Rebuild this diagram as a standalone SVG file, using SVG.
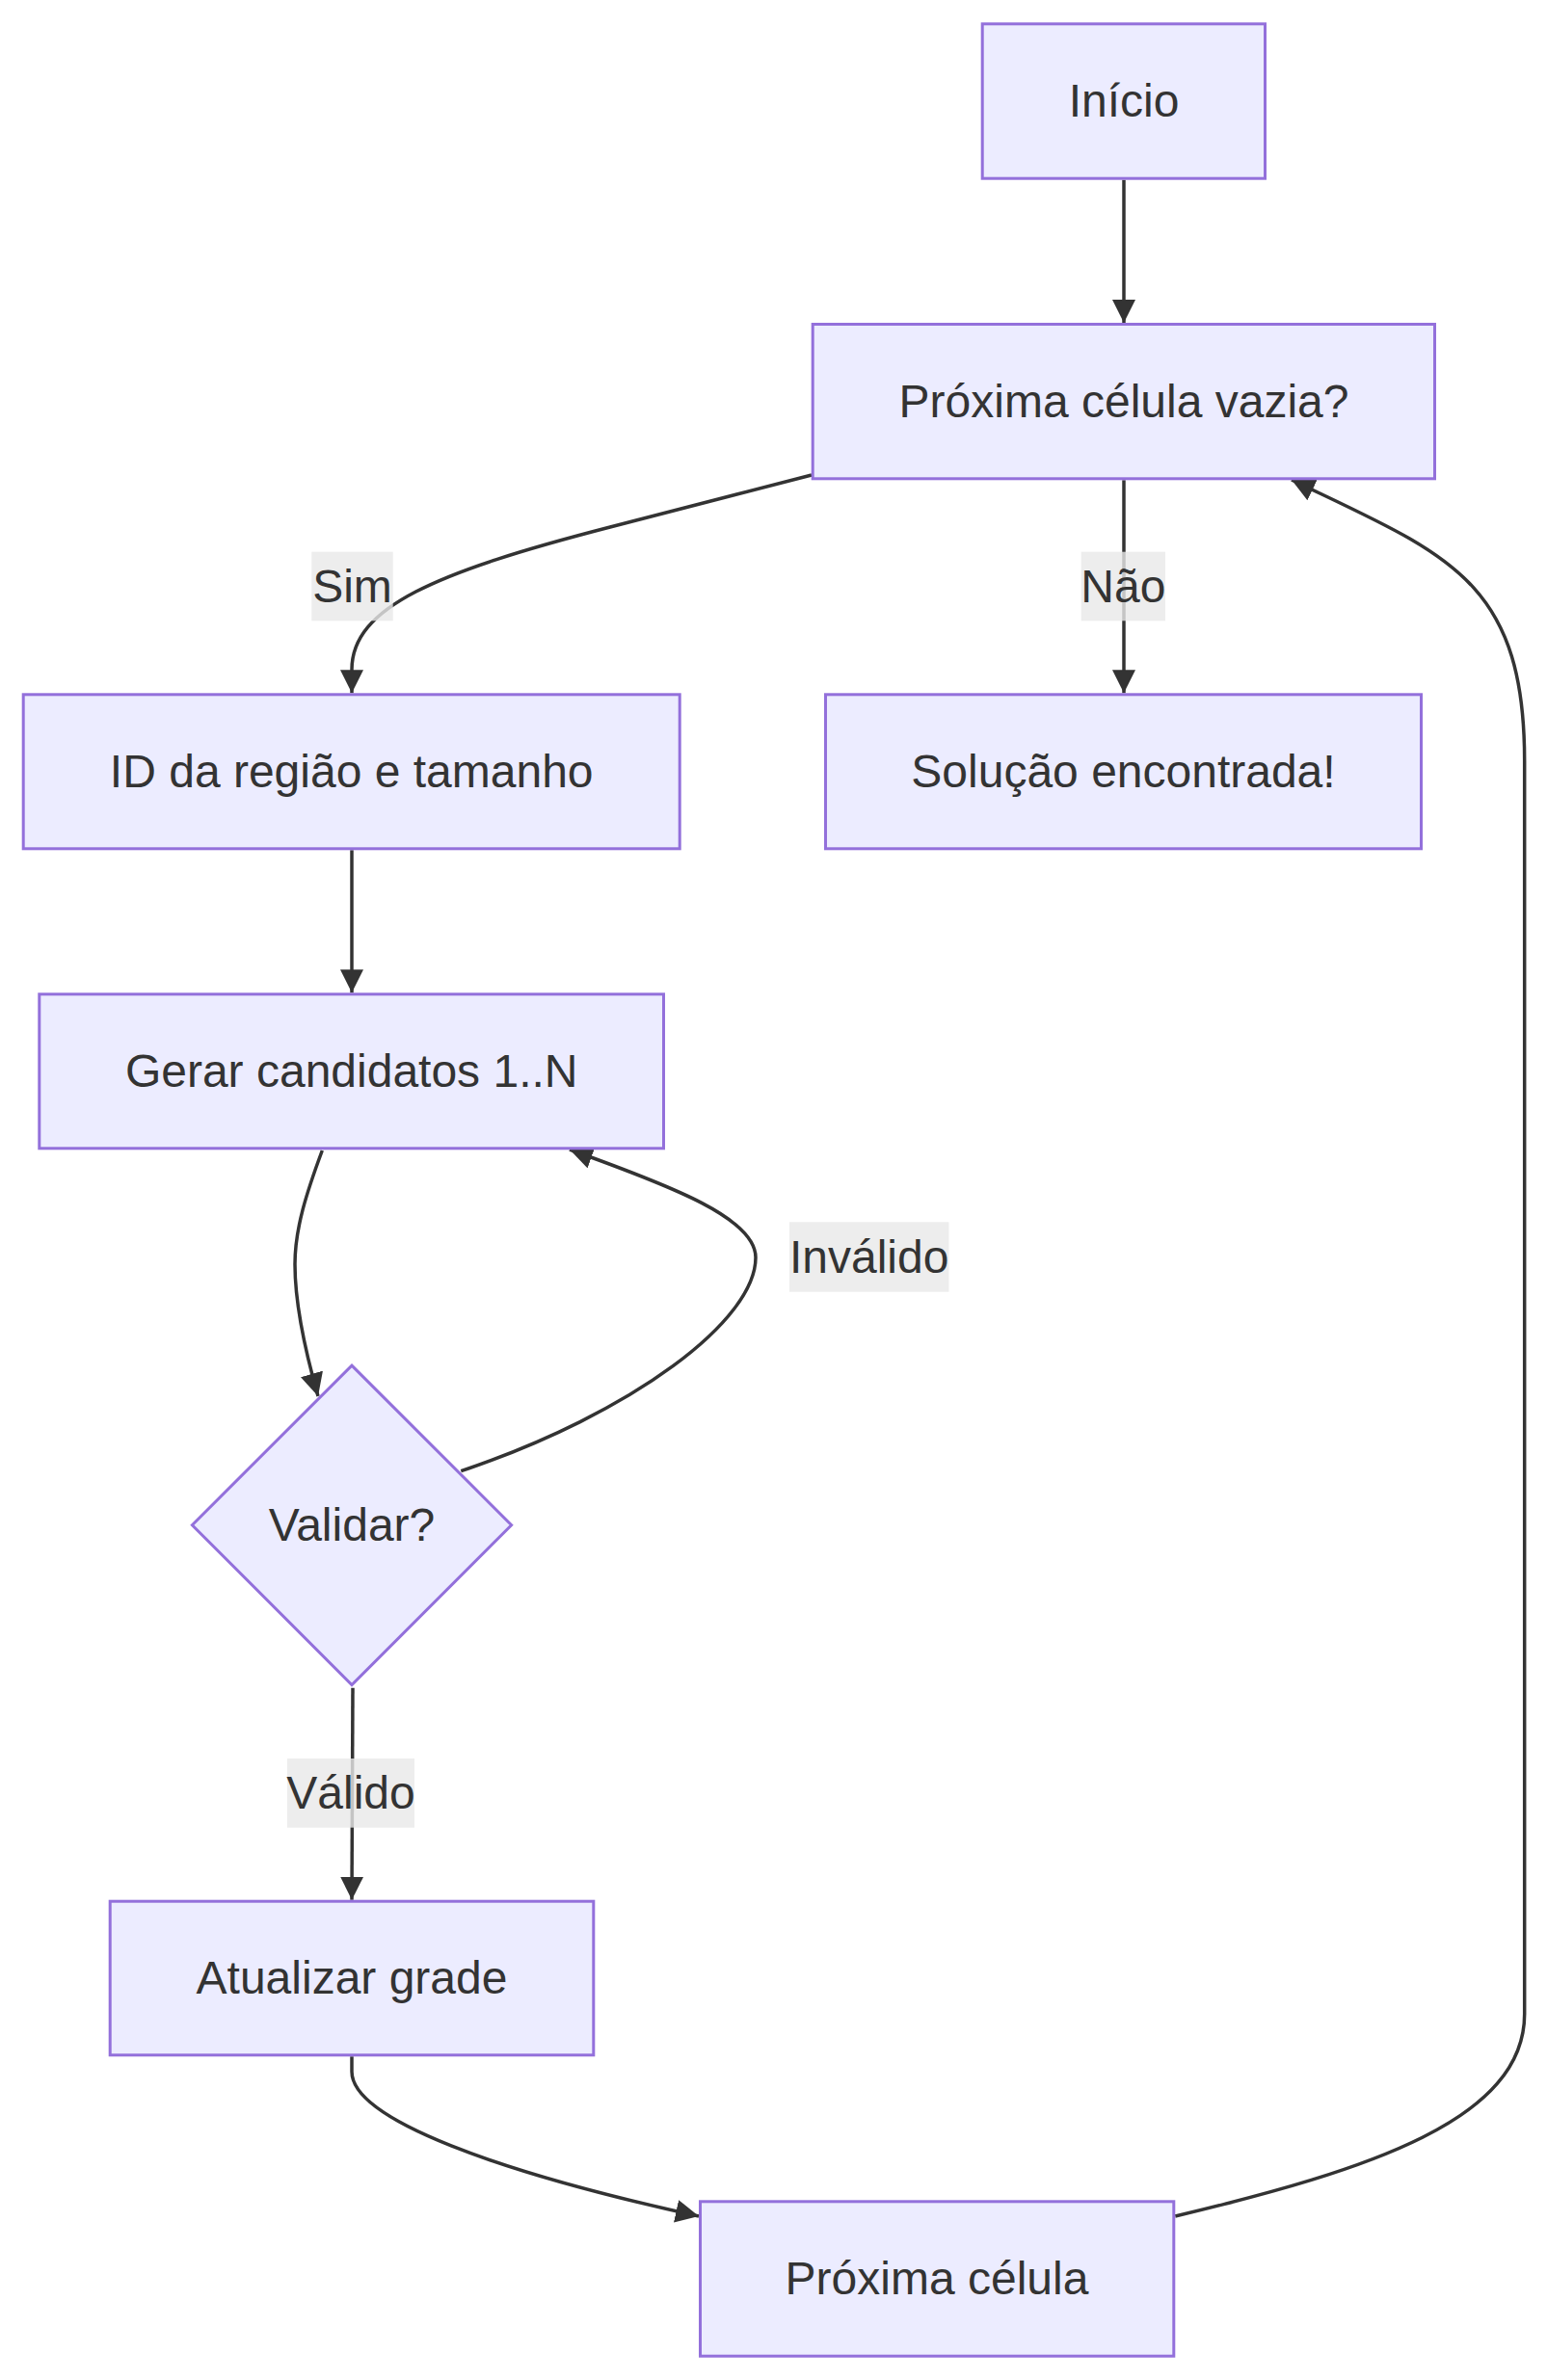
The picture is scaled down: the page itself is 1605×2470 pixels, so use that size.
<svg xmlns="http://www.w3.org/2000/svg" width="1605" height="2470" viewBox="0 0 1605 2470">
<style>
.node rect, .node polygon { fill: #ECECFF; stroke: #9370DB; stroke-width: 3; }
.label { font-family: "Liberation Sans", Arial, sans-serif; font-size: 48px; fill: #333333; text-anchor: middle; }
.edge { fill: none; stroke: #333333; stroke-width: 3.5; marker-end: url(#arrow); }
.elbg { fill: #e8e8e8; fill-opacity: 0.8; }
</style>
<defs>
<marker id="arrow" viewBox="0 0 10 10" refX="10" refY="5" markerUnits="userSpaceOnUse" markerWidth="24" markerHeight="24" orient="auto">
<path d="M 0 0 L 10 5 L 0 10 z" fill="#333333"/>
</marker>
</defs>
<rect width="1605" height="2470" fill="#ffffff"/>
<g id="connectors">
<path class="edge" d="M 1166 186.7 L 1166 335"/>
<path class="edge" d="M 842 493 L 633 547 C 453 593.5 365 630 365 695 L 365 719.3"/>
<path class="edge" d="M 1166 498.3 L 1166 719.3"/>
<path class="edge" d="M 365 882.3 L 365 1030.3"/>
<path class="edge" d="M 334.3 1194 C 318 1238 306 1275 306 1312 C 306 1350 316 1400 330 1449"/>
<path class="edge" d="M 478.3 1526.7 C 658 1466 784 1370 784 1305 C 784 1265 700 1232 591 1193"/>
<path class="edge" d="M 366 1751.7 L 365 1971.7"/>
<path class="edge" d="M 365 2134.3 L 365 2150 C 365 2200 520 2255 725 2300"/>
<path class="edge" d="M 1219.3 2300 C 1420 2252 1581.7 2200 1581.7 2090 L 1581.7 790 C 1581.7 600 1500 575 1340 498"/>
</g>
<g id="edge-labels">
<g id="label-sim"><rect class="elbg" x="323.3" y="572.7" width="84.4" height="71.6"/><text class="label" x="365.5" y="624.5">Sim</text></g>
<g id="label-nao"><rect class="elbg" x="1121.7" y="572.7" width="87.3" height="71.6"/><text class="label" x="1165.3" y="624.5">Não</text></g>
<g id="label-invalido"><rect class="elbg" x="819" y="1268.3" width="165.4" height="72.4"/><text class="label" x="901.7" y="1320.5">Inválido</text></g>
<g id="label-valido"><rect class="elbg" x="298" y="1825" width="132" height="71.7"/><text class="label" x="364" y="1876.8">Válido</text></g>
</g>
<g id="node-inicio" class="node"><rect x="1019.2" y="24.8" width="293.3" height="160.4"/><text class="label" x="1166" y="121">Início</text></g>
<g id="node-proxima-vazia" class="node"><rect x="843.2" y="336.5" width="645.3" height="160.3"/><text class="label" x="1166" y="432.7">Próxima célula vazia?</text></g>
<g id="node-id-regiao" class="node"><rect x="24.2" y="720.8" width="681" height="160"/><text class="label" x="364.7" y="816.8">ID da região e tamanho</text></g>
<g id="node-solucao" class="node"><rect x="856.5" y="720.8" width="618" height="160"/><text class="label" x="1165.5" y="816.8">Solução encontrada!</text></g>
<g id="node-gerar" class="node"><rect x="40.8" y="1031.8" width="647.7" height="160"/><text class="label" x="364.7" y="1127.8">Gerar candidatos 1..N</text></g>
<g id="node-validar" class="node"><polygon points="365,1417.1 530.6,1582.7 365,1748.6 199.4,1582.7"/><text class="label" x="365" y="1598.7">Validar?</text></g>
<g id="node-atualizar" class="node"><rect x="114.2" y="1973.2" width="501.6" height="159.6"/><text class="label" x="365" y="2069">Atualizar grade</text></g>
<g id="node-proxima" class="node"><rect x="726.5" y="2284.8" width="491.3" height="160.4"/><text class="label" x="972" y="2381">Próxima célula</text></g>
</svg>
